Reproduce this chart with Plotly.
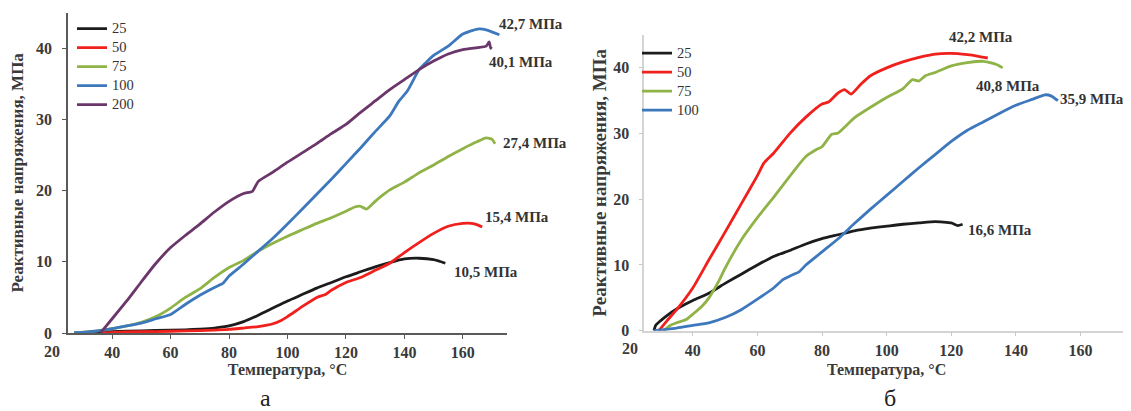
import plotly.graph_objects as go

# ---------------- Data: chart "а" ----------------
a_labels = ["25", "50", "75", "100", "200"]

a25_x = [27, 35, 45, 55, 65, 70, 75, 80, 85, 90, 95, 100, 105, 110, 115, 120, 125, 130, 135, 140, 145, 150, 154]
a25_y = [0.0, 0.15, 0.25, 0.35, 0.45, 0.55, 0.7, 1.0, 1.6, 2.5, 3.5, 4.5, 5.4, 6.3, 7.1, 7.9, 8.6, 9.3, 9.9, 10.4, 10.5, 10.3, 9.8]

a50_x = [36, 45, 55, 65, 75, 80, 85, 90, 95, 98, 100, 105, 110, 113, 115, 120, 125, 130, 135, 140, 145, 150, 155, 160, 163, 165, 166.6]
a50_y = [0.0, 0.15, 0.2, 0.3, 0.4, 0.5, 0.7, 0.9, 1.3, 1.8, 2.3, 3.7, 5.0, 5.4, 6.0, 7.1, 7.8, 8.8, 9.8, 11.3, 12.7, 14.0, 15.0, 15.4, 15.4, 15.2, 14.9]

a75_x = [27, 35, 40, 45, 50, 55, 60, 65, 70, 75, 80, 85, 90, 95, 100, 105, 110, 115, 120, 123, 125, 127, 130, 133, 135, 140, 145, 150, 155, 160, 165, 168, 170, 171]
a75_y = [0.0, 0.3, 0.6, 1.0, 1.5, 2.3, 3.5, 5.0, 6.2, 7.8, 9.2, 10.2, 11.5, 12.6, 13.6, 14.5, 15.4, 16.2, 17.1, 17.7, 17.8, 17.4, 18.5, 19.5, 20.1, 21.2, 22.5, 23.6, 24.8, 25.9, 26.9, 27.4, 27.2, 26.6]

a100_x = [27, 30, 35, 40, 45, 50, 55, 60, 65, 70, 75, 78, 80, 85, 90, 95, 100, 105, 110, 115, 120, 125, 130, 135, 138, 141, 143, 145, 150, 155, 160, 165, 168, 172.5]
a100_y = [0.0, 0.1, 0.3, 0.6, 1.0, 1.4, 2.0, 2.6, 4.0, 5.3, 6.4, 7.0, 8.0, 9.7, 11.5, 13.3, 15.3, 17.4, 19.5, 21.6, 23.8, 26.0, 28.3, 30.5, 32.5, 34.0, 35.5, 37.0, 39.0, 40.3, 42.0, 42.7, 42.6, 41.9]

a200_x = [36, 38, 40, 45, 50, 55, 60, 65, 70, 75, 80, 85, 88, 90, 95, 100, 105, 110, 115, 120, 125, 130, 135, 140, 145, 150, 155, 160, 165, 168, 169, 169.5, 169.8]
a200_y = [0.0, 1.0, 2.0, 4.5, 7.2, 9.8, 12.0, 13.7, 15.3, 17.0, 18.5, 19.6, 19.9, 21.3, 22.6, 24.0, 25.3, 26.6, 28.0, 29.3, 31.0, 32.6, 34.2, 35.6, 37.0, 38.2, 39.2, 39.8, 40.1, 40.3, 40.9, 40.0, 40.2]

a_peak_text = ["10,5 МПа", "15,4 МПа", "27,4 МПа", "42,7 МПа", "40,1 МПа"]
a_peak_x = [156.4, 166.9, 173.2, 171.7, 168.3]
a_peak_y = [8.6, 16.3, 26.7, 43.4, 38.1]

# ---------------- Data: chart "б" ----------------
b_labels = ["25", "50", "75", "100"]

b25_x = [28, 28.5, 30, 32, 35, 40, 45, 50, 55, 60, 65, 70, 75, 80, 85, 90, 95, 100, 105, 110, 115, 120, 122, 123.5]
b25_y = [0.0, 0.8, 1.5, 2.3, 3.3, 4.6, 5.7, 7.2, 8.6, 10.0, 11.3, 12.2, 13.2, 14.0, 14.6, 15.2, 15.6, 15.9, 16.2, 16.4, 16.6, 16.4, 16.0, 16.2]

b50_x = [29.5, 32, 35, 40, 45, 50, 55, 60, 62, 65, 70, 75, 80, 82, 85, 87, 89, 92, 95, 100, 105, 110, 115, 120, 125, 128, 131.3]
b50_y = [0.0, 1.5, 3.2, 6.5, 10.8, 15.0, 19.3, 23.6, 25.5, 27.0, 30.0, 32.5, 34.5, 34.8, 36.2, 36.7, 36.0, 37.5, 38.8, 40.0, 40.9, 41.6, 42.1, 42.2, 42.0, 41.8, 41.5]

b75_x = [31, 33, 35, 38, 40, 43, 45, 48, 50, 55, 60, 65, 70, 75, 78, 80, 83, 85, 90, 95, 100, 105, 108, 110, 112, 115, 120, 125, 130, 132, 134, 135.9]
b75_y = [0.0, 0.8, 1.2, 1.7, 2.5, 3.8, 5.0, 7.5, 9.5, 13.8, 17.2, 20.3, 23.5, 26.5, 27.5, 28.0, 29.9, 30.1, 32.4, 34.0, 35.5, 36.8, 38.2, 38.0, 38.8, 39.3, 40.3, 40.8, 41.0, 40.8, 40.5, 40.0]

b100_x = [28, 35, 40, 45, 50, 55, 60, 65, 68, 70, 73, 75, 80, 85, 90, 95, 100, 105, 110, 115, 120, 125, 130, 135, 140, 145, 149, 151, 153]
b100_y = [0.0, 0.4, 0.8, 1.2, 2.0, 3.2, 4.8, 6.5, 7.8, 8.3, 9.0, 10.0, 12.0, 14.0, 16.3, 18.5, 20.6, 22.7, 24.8, 26.8, 28.8, 30.5, 31.8, 33.1, 34.3, 35.2, 35.9, 35.7, 35.0]

b_peak_text = ["16,6 МПа", "42,2 МПа", "40,8 МПа", "35,9 МПа"]
b_peak_x = [124.5, 118.6, 126.9, 153.0]
b_peak_y = [15.25, 44.65, 37.2, 35.2]

x_tick_vals = [40, 60, 80, 100, 120, 140, 160]
y_tick_vals = [0, 10, 20, 30, 40]

# ---------------- Styling ----------------
FONT = "Liberation Serif"
W, H = 1131, 411
OX, OY = 8, 8   # the page body margin shifts the figure by this much


def px_x(p):
    return (p - OX) / W


def px_y(p):
    return 1 - (p - OY) / H


colors_a = ["#1c1c1c", "#f0201c", "#8fb347", "#3d78bd", "#6b3669"]
colors_b = ["#1c1c1c", "#f0201c", "#8fb347", "#3d78bd"]

fig = go.Figure()

a_series = [(a25_x, a25_y), (a50_x, a50_y), (a75_x, a75_y), (a100_x, a100_y), (a200_x, a200_y)]
for (xs, ys), name, c in zip(a_series, a_labels, colors_a):
    fig.add_trace(go.Scatter(x=xs, y=ys, name="<span style='font-size:14.5px'>" + name + "</span>",
                             mode="lines",
                             line=dict(color=c, width=2.8, shape="spline", smoothing=0.5),
                             xaxis="x", yaxis="y", legend="legend"))

b_series = [(b25_x, b25_y), (b50_x, b50_y), (b75_x, b75_y), (b100_x, b100_y)]
for (xs, ys), name, c in zip(b_series, b_labels, colors_b):
    fig.add_trace(go.Scatter(x=xs, y=ys, name="<span style='font-size:14.5px'>" + name + "</span>",
                             mode="lines",
                             line=dict(color=c, width=2.8, shape="spline", smoothing=0.5),
                             xaxis="x2", yaxis="y2", legend="legend2"))

tickfont = dict(family=FONT, size=16, color="#3a3a3a", weight="bold")

axis_common = dict(showgrid=False, zeroline=False, ticks="outside", ticklen=4,
                   tickfont=tickfont, automargin=False)

fig.update_layout(
    width=W, height=H,
    margin=dict(l=0, r=0, t=0, b=0, autoexpand=False),
    paper_bgcolor="white", plot_bgcolor="white",
    showlegend=True,
    xaxis=dict(domain=[px_x(68.3), px_x(506.7)], range=[25, 175], tickvals=x_tick_vals,
               showline=True, linecolor="#5a5a5a", linewidth=2, tickcolor="#5a5a5a",
               title=dict(text="Температура, °С", standoff=4,
                          font=dict(family=FONT, size=16, color="#3a3a3a", weight="bold")),
               anchor="y", **axis_common),
    yaxis=dict(domain=[px_y(333), px_y(12.7)], range=[0, 45], tickvals=y_tick_vals,
               showline=True, linecolor="#5a5a5a", linewidth=2, tickcolor="#5a5a5a",
               ticklabelstandoff=7,
               title=dict(text="Реактивные напряжения, МПа", standoff=12,
                          font=dict(family=FONT, size=17, color="#3a3a3a", weight="bold")),
               anchor="x", **axis_common),
    xaxis2=dict(domain=[px_x(644.3), px_x(1129)], range=[25, 175], tickvals=x_tick_vals,
                showline=True, linecolor="#d4d4d4", linewidth=1.5, tickcolor="#c8c8c8",
                title=dict(text="Температура, °С", standoff=6,
                           font=dict(family=FONT, size=16, color="#3a3a3a", weight="bold")),
                anchor="y2", **axis_common),
    yaxis2=dict(domain=[px_y(330.7), px_y(35)], range=[0, 45], tickvals=y_tick_vals,
                showline=True, linecolor="#d4d4d4", linewidth=1.5, tickcolor="#c8c8c8",
                ticklabelstandoff=6,
                title=dict(text="Реактивные напряжения, МПа", standoff=2,
                           font=dict(family=FONT, size=19, color="#3a3a3a", weight="bold")),
                anchor="x2", **axis_common),
    legend=dict(x=px_x(72), y=px_y(14.2), xanchor="left", yanchor="top",
                font=dict(family=FONT, size=11.5, color="#333333"), bgcolor="rgba(0,0,0,0)",
                tracegroupgap=0, itemwidth=30),
    legend2=dict(x=px_x(637), y=px_y(38.7), xanchor="left", yanchor="top",
                 font=dict(family=FONT, size=11.5, color="#333333"), bgcolor="rgba(0,0,0,0)",
                 tracegroupgap=0, itemwidth=30),
)

ann_font = dict(family=FONT, size=15, color="#333333", weight="bold")
for t, x, y in zip(a_peak_text, a_peak_x, a_peak_y):
    fig.add_annotation(text=t, x=x, y=y, xref="x", yref="y", showarrow=False,
                       xanchor="left", yanchor="middle", font=ann_font)
for t, x, y in zip(b_peak_text, b_peak_x, b_peak_y):
    fig.add_annotation(text=t, x=x, y=y, xref="x2", yref="y2", showarrow=False,
                       xanchor="left", yanchor="middle", font=ann_font)

# "20" tick labels that sit left of the axis crossing
fig.add_annotation(text="20", x=px_x(52.4), y=px_y(351.5), xref="paper", yref="paper",
                   showarrow=False, xanchor="center", yanchor="middle", font=tickfont)
fig.add_annotation(text="20", x=px_x(630), y=px_y(348), xref="paper", yref="paper",
                   showarrow=False, xanchor="center", yanchor="middle", font=tickfont)

# panel labels
fig.add_annotation(text="а", x=px_x(265), y=px_y(398), xref="paper", yref="paper",
                   showarrow=False, xanchor="center", yanchor="middle",
                   font=dict(family=FONT, size=24, color="#222222"))
fig.add_annotation(text="б", x=px_x(890), y=px_y(398), xref="paper", yref="paper",
                   showarrow=False, xanchor="center", yanchor="middle",
                   font=dict(family=FONT, size=24, color="#222222"))

fig.write_html("out.html")
